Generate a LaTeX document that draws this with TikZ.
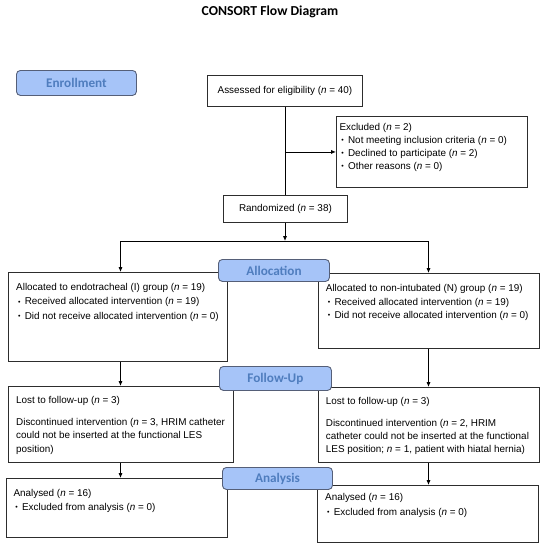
\documentclass[tikz,border=0pt]{standalone}
\usepackage{fontspec}
\setmainfont{Liberation Sans}
\newfontfamily\labfont{Carlito}
\usetikzlibrary{arrows.meta}
\definecolor{labfill}{RGB}{166,196,248}
\definecolor{labdraw}{RGB}{85,95,120}
\definecolor{labtext}{RGB}{79,125,190}
\definecolor{boxdraw}{RGB}{45,45,45}
\newcommand\bul{\makebox[8.6pt][l]{\hspace{1.9pt}\raisebox{0.7pt}{\fontsize{7}{7}\selectfont •}}}
\newcommand\nn{\textit{n}}
\begin{document}
\begin{tikzpicture}[x=1pt,y=-1pt,
  box/.style={draw=boxdraw, line width=0.9pt, inner sep=0pt, fill=white,
    font=\fontsize{9.9}{12}\selectfont},
  lab/.style={draw=labdraw, line width=0.9pt, fill=labfill, rounded corners=4pt,
    inner sep=0pt, text=labtext, font=\labfont\bfseries\fontsize{13.2}{15}\selectfont},
  txt/.style={inner sep=0pt, align=left, anchor=north west},
  line/.style={draw=black, line width=0.9pt},
  arr/.style={line, -{Latex[length=5pt,width=4.2pt]}}]
\useasboundingbox (0,0) rectangle (544,550);

\node[font=\labfont\bfseries\fontsize{13.7}{16}\selectfont] (title) at (270,12) {CONSORT Flow Diagram};

% boxes
\node[box, minimum width=155pt, minimum height=31pt, anchor=north west] (assess) at (207,75) {Assessed for eligibility (\nn{} = 40)};
\node[box, minimum width=191pt, minimum height=71pt, anchor=north west] (excl) at (336,116) {};
\node[box, minimum width=124pt, minimum height=27pt, anchor=north west] (rand) at (223,195) {Randomized (\nn{} = 38)};
\node[box, minimum width=219pt, minimum height=89pt, anchor=north west] (allocL) at (8,272) {};
\node[box, minimum width=221pt, minimum height=75pt, anchor=north west] (allocR) at (318,273) {};
\node[box, minimum width=225pt, minimum height=76pt, anchor=north west] (followL) at (8,386) {};
\node[box, minimum width=221pt, minimum height=75pt, anchor=north west] (followR) at (318,387) {};
\node[box, minimum width=221pt, minimum height=59pt, anchor=north west] (anaL) at (6,478) {};
\node[box, minimum width=221pt, minimum height=57pt, anchor=north west] (anaR) at (317,485) {};

% texts
\node[txt, font=\fontsize{9.9}{12.9}\selectfont] (exclT) at (339.3,123.4)
  {Excluded (\nn{} = 2)\\ \bul Not meeting inclusion criteria (\nn{} = 0)\\ \bul Declined to participate (\nn{} = 2)\\ \bul Other reasons (\nn{} = 0)};
\node[txt, font=\fontsize{9.9}{14.4}\selectfont] (allocLT) at (16,283.1)
  {Allocated to endotracheal (I) group (\nn{} = 19)\\ \bul Received allocated intervention (\nn{} = 19)\\ \bul Did not receive allocated intervention (\nn{} = 0)};
\node[txt, font=\fontsize{9.9}{13.6}\selectfont] (allocRT) at (325.7,284.1)
  {Allocated to non-intubated (N) group (\nn{} = 19)\\ \bul Received allocated intervention (\nn{} = 19)\\ \bul Did not receive allocated intervention (\nn{} = 0)};
\node[txt, font=\fontsize{9.9}{13.4}\selectfont] (followLT) at (16,396.1)
  {Lost to follow-up (\nn{} = 3)\\[8.6pt] Discontinued intervention (\nn{} = 3, HRIM catheter\\ could not be inserted at the functional LES\\ position)};
\node[txt, font=\fontsize{9.9}{12.8}\selectfont] (followRT) at (325.7,397.1)
  {Lost to follow-up (\nn{} = 3)\\[9.2pt] Discontinued intervention (\nn{} = 2, HRIM\\ catheter could not be inserted at the functional\\ LES position; \nn{} = 1, patient with hiatal hernia)};
\node[txt, font=\fontsize{9.9}{14}\selectfont] (anaLT) at (13.3,489.1)
  {Analysed (\nn{} = 16)\\ \bul Excluded from analysis (\nn{} = 0)};
\node[txt, font=\fontsize{9.9}{14.7}\selectfont] (anaRT) at (325,493.1)
  {Analysed (\nn{} = 16)\\ \bul Excluded from analysis (\nn{} = 0)};

% connectors
\coordinate (exj) at (assess.south |- excl.west);
\coordinate (split) at (285,241);
\coordinate (sL) at (120.5,241);
\coordinate (sR) at (428.5,241);
\draw[line] (assess.south) -- (assess.south |- rand.north);
\draw[arr] (exj) -- (excl.west);
\draw[arr] (rand.south -| split) -- (split);
\draw[line] (sL) -- (sR);
\draw[arr] (sL) -- (sL |- allocL.north);
\draw[arr] (sR) -- (sR |- allocR.north);
\draw[arr] (sL |- allocL.south) -- (sL |- followL.north);
\draw[arr] (sR |- allocR.south) -- (sR |- followR.north);
\draw[arr] (sL |- followL.south) -- (sL |- anaL.north);
\draw[arr] (sR |- followR.south) -- (sR |- anaR.north);

% phase labels
\node[lab, minimum width=120pt, minimum height=25pt, anchor=north west] (enroll) at (16,70) {Enrollment};
\node[lab, minimum width=111pt, minimum height=22pt, anchor=north west] (alloc) at (218,259) {Allocation};
\node[lab, minimum width=112pt, minimum height=24pt, anchor=north west] (follow) at (219,366) {Follow-Up};
\node[lab, minimum width=110pt, minimum height=22pt, anchor=north west] (analysis) at (222,467) {Analysis};
\end{tikzpicture}
\end{document}
